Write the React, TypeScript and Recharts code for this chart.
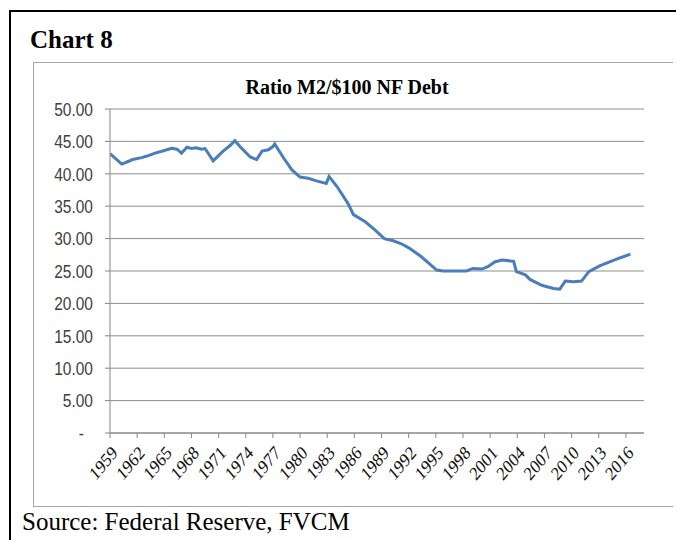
import React from 'react';
import { LineChart, Line, XAxis, YAxis, CartesianGrid } from 'recharts';

const years: number[] = [
  1959.0, 1959.5, 1960.3, 1961.0, 1961.5, 1962.5, 1963.0, 1964.0, 1965.0, 1965.8,
  1966.4, 1966.9, 1967.5, 1968.0, 1968.5, 1969.1, 1969.5, 1970.4, 1971.5, 1972.3,
  1972.8, 1973.5, 1974.5, 1975.2, 1975.8, 1976.5, 1977.0, 1977.2, 1978.2, 1979.1,
  1980.0, 1980.9, 1981.8, 1982.9, 1983.2, 1984.1, 1985.3, 1985.9, 1987.2, 1988.3,
  1989.3, 1990.2, 1991.2, 1992.1, 1993.4, 1995.1, 1995.8, 1998.4, 1999.1, 2000.1,
  2000.8, 2001.5, 2002.3, 2003.6, 2003.9, 2004.9, 2005.4, 2006.7, 2008.0, 2008.7,
  2009.3, 2010.2, 2011.1, 2011.9, 2013.1, 2014.2, 2015.4, 2016.5,
];

const ratio: number[] = [
  43.1, 42.5, 41.5, 41.9, 42.2, 42.5, 42.7, 43.2, 43.6, 43.95,
  43.8, 43.2, 44.1, 43.9, 44.0, 43.8, 43.9, 42.0, 43.5, 44.4,
  45.1, 44.0, 42.6, 42.2, 43.5, 43.7, 44.2, 44.6, 42.4, 40.6,
  39.5, 39.3, 38.9, 38.5, 39.6, 38.0, 35.4, 33.7, 32.6, 31.3,
  30.0, 29.7, 29.2, 28.5, 27.2, 25.15, 25.0, 25.0, 25.4, 25.3,
  25.7, 26.4, 26.7, 26.5, 24.9, 24.4, 23.7, 22.8, 22.3, 22.2,
  23.45, 23.35, 23.45, 24.9, 25.8, 26.4, 27.05, 27.6,
];

const xTicks: number[] = [
  1959, 1962, 1965, 1968, 1971, 1974, 1977, 1980, 1983, 1986,
  1989, 1992, 1995, 1998, 2001, 2004, 2007, 2010, 2013, 2016,
];
const yTicks: number[] = [0, 5, 10, 15, 20, 25, 30, 35, 40, 45, 50];

const chartTitle = 'Ratio M2/$100 NF Debt';
const headerText = 'Chart 8';
const sourceText = 'Source: Federal Reserve, FVCM';

const data = years.map((y, i) => ({ year: y, value: ratio[i] }));

const serif = '"Liberation Serif", "Times New Roman", serif';
const sans = '"Liberation Sans", Arial, sans-serif';

const YTick = (props: any) => {
  const { x, y, payload } = props;
  const v = payload.value as number;
  const label = v === 0 ? '-' : v.toFixed(2);
  const dx = v === 0 ? -9 : 0;
  return (
    <g transform={`translate(${x + dx},${y}) scale(1,1.2)`}>
      <text x={0} y={0} dy="0.36em" textAnchor="end" fontFamily={sans} fontSize={15.5} fill="#404040">
        {label}
      </text>
    </g>
  );
};

const XTick = (props: any) => {
  const { x, y, payload } = props;
  return (
    <g transform={`translate(${x + 5},${y + 10})`}>
      <text x={0} y={0} dy="0.3em" textAnchor="end" transform="scale(1,1.2) rotate(-45)" fontFamily={serif} fontSize={16} fill="#111">
        {String(payload.value)}
      </text>
    </g>
  );
};

export default function App() {
  return (
    <div style={{ position: 'absolute', left: 0, top: 0, width: 676, height: 540, overflow: 'hidden', background: '#fff' }}>
      <div style={{ position: 'absolute', left: 9, top: 10, width: 700, height: 600, border: '2px solid #000', boxSizing: 'border-box' }} />
      <div style={{ position: 'absolute', left: 30, top: 25, fontFamily: serif, fontWeight: 'bold', fontSize: 25, lineHeight: '30px', color: '#000' }}>
        {headerText}
      </div>
      <div style={{ position: 'absolute', left: 33, top: 62, width: 640, height: 445, borderTop: '1px solid #a6a6a6', borderLeft: '1px solid #a6a6a6', borderBottom: '1px solid #a6a6a6', boxSizing: 'border-box' }} />
      <div style={{ position: 'absolute', left: 33, top: 75, width: 636, textAlign: 'center', fontFamily: serif, fontWeight: 'bold', fontSize: 20, lineHeight: '24px', color: '#000' }}>
        <span style={{ position: 'relative', left: -4 }}>{chartTitle}</span>
      </div>
      <div style={{ position: 'absolute', left: 0, top: 0 }}>
        <LineChart width={676} height={540} data={data} margin={{ top: 109, right: 32, left: 50, bottom: 47 }}>
          <CartesianGrid horizontal={true} vertical={false} stroke="#8e8e8e" strokeWidth={1} />
          <XAxis
            dataKey="year"
            type="number"
            domain={[1959, 2018]}
            ticks={xTicks}
            interval={0}
            height={60}
            tickSize={5}
            tickMargin={2}
            stroke="#868686"
            tickLine={{ stroke: '#868686' }}
            tick={<XTick />}
            allowDataOverflow={true}
          />
          <YAxis
            type="number"
            domain={[0, 50]}
            ticks={yTicks}
            interval={0}
            width={60}
            tickSize={5}
            tickMargin={12}
            stroke="#868686"
            tickLine={{ stroke: '#868686' }}
            tick={<YTick />}
          />
          <Line
            type="linear"
            dataKey="value"
            stroke="#4a7ebb"
            strokeWidth={3}
            dot={false}
            isAnimationActive={false}
          />
        </LineChart>
      </div>
      <div style={{ position: 'absolute', left: 22, top: 507, fontFamily: serif, fontSize: 25, lineHeight: '30px', color: '#000' }}>
        {sourceText}
      </div>
    </div>
  );
}
